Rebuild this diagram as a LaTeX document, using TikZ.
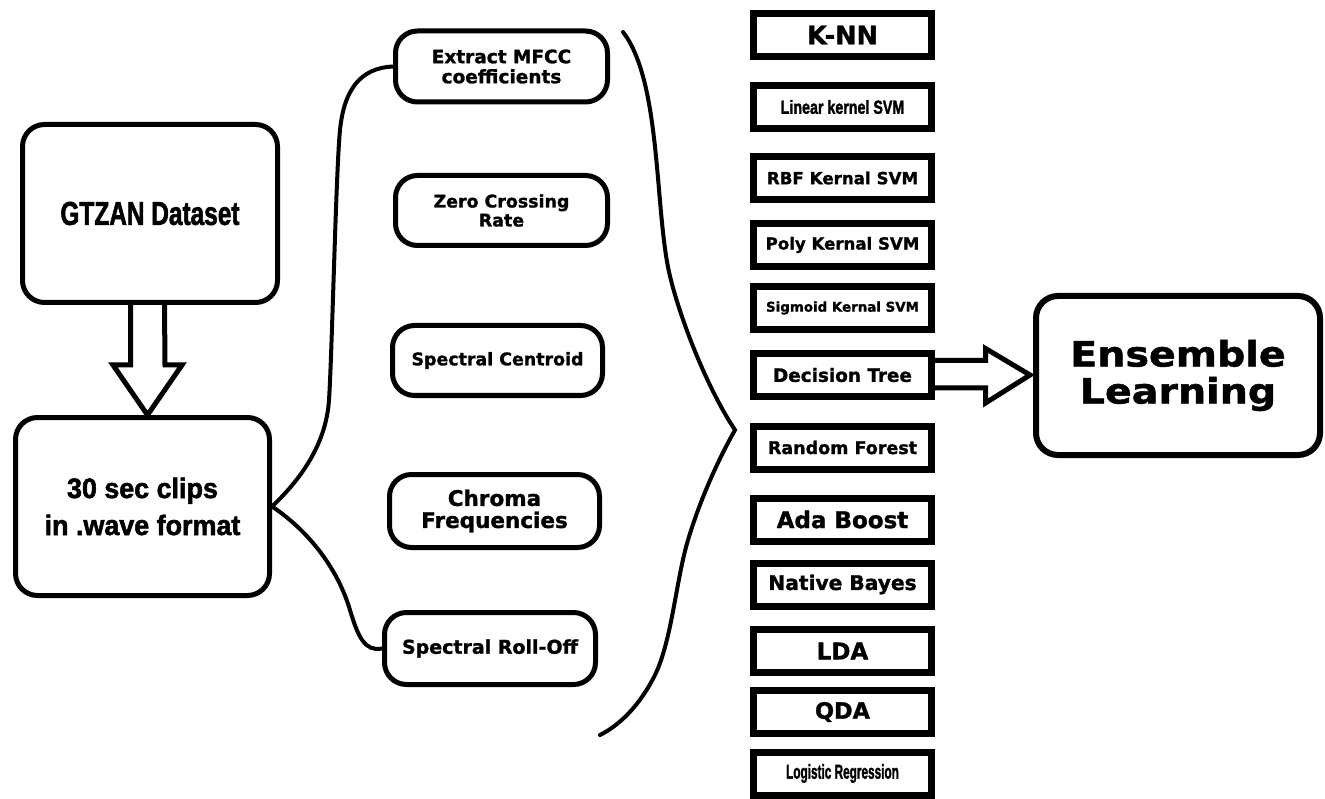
\documentclass[tikz,border=0pt]{standalone}
\usepackage{fontspec}
\usepackage{graphicx}
\setmainfont{Liberation Sans}
\newfontfamily\wfont{DejaVu Sans Bold}[RawFeature={embolden=1.3}]
\newfontfamily\nfont{Liberation Sans Bold}[RawFeature={embolden=2.0}]
\usetikzlibrary{calc}
\begin{document}
\begin{tikzpicture}[x=1pt,y=-1pt,
  bigbox/.style={draw, line width=5pt, rounded corners=22pt, align=center, inner sep=0pt},
  featbox/.style={draw, line width=5pt, rounded corners=22pt, align=center, inner sep=0pt, minimum width=212pt, minimum height=71pt},
  clsbox/.style={draw, line width=7pt, inner sep=0pt, minimum width=178pt, minimum height=43pt},
  wtxt/.style={font=\wfont\fontsize{#1}{#1}\selectfont},
  ntxt/.style={font=\nfont\fontsize{#1}{#1}\selectfont},
  link/.style={line width=4pt, line cap=round},
  fatarrow/.style={line width=5pt, line join=miter}]
\fill[white] (0,0) rectangle (1325,799);
\useasboundingbox (0,0) rectangle (1325,799);

% left column
\node[bigbox, minimum width=255pt, minimum height=178pt, ntxt=33] (gtzan) at (150,213.5) {\scalebox{0.74}[1]{GTZAN Dataset}};
\node[bigbox, minimum width=254pt, minimum height=178pt, font=\nfont\fontsize{28}{37}\selectfont] (clips) at (142.5,506.5) {\scalebox{0.96}[1]{30 sec clips}\\\scalebox{0.96}[1]{in .wave format}};

% feature boxes
\node[featbox, font=\wfont\fontsize{18.5}{20}\selectfont] (mfcc) at (501.5,66.5) {Extract MFCC\\coefficients};
\node[featbox, font=\wfont\fontsize{17.4}{19}\selectfont, minimum height=70pt] (zcr) at (501.5,210.5) {Zero Crossing\\Rate};
\node[featbox, wtxt=17.4, minimum width=210pt, minimum height=70pt] (cent) at (497.5,360.5) {Spectral Centroid};
\node[featbox, font=\wfont\fontsize{21.5}{22}\selectfont, minimum width=210pt, minimum height=73pt] (chroma) at (494.5,511) {Chroma\\Frequencies};
\node[featbox, wtxt=19, minimum width=211pt, minimum height=72pt] (roll) at (490,648.5) {Spectral Roll-Off};

% classifier boxes
\node[clsbox, wtxt=25.5] (knn) at (842.5,35) {K-NN};
\node[clsbox, ntxt=19] (lin) at (842.5,107) {\scalebox{0.75}[1]{Linear kernel SVM}};
\node[clsbox, wtxt=16.7] (rbf) at (842.5,178) {RBF Kernal SVM};
\node[clsbox, wtxt=16.6] (poly) at (842.5,245) {Poly Kernal SVM};
\node[clsbox, wtxt=13.4] (sig) at (842.5,308) {Sigmoid Kernal SVM};
\node[clsbox, wtxt=18.4] (dt) at (842.5,375) {Decision Tree};
\node[clsbox, wtxt=17.5] (rf) at (842.5,447.5) {Random Forest};
\node[clsbox, wtxt=23] (ada) at (842.5,519.5) {Ada Boost};
\node[clsbox, wtxt=20.2] (nb) at (842.5,584.5) {Native Bayes};
\node[clsbox, wtxt=23] (lda) at (842.5,651) {LDA};
\node[clsbox, wtxt=22.4] (qda) at (842.5,712) {QDA};
\node[clsbox, ntxt=20] (lr) at (842.5,773.5) {\scalebox{0.59}[1]{Logistic Regression}};

% ensemble
\node[bigbox, line width=6pt, minimum width=284pt, minimum height=159pt, font=\wfont\fontsize{35}{37}\selectfont] (ens) at (1178,375.5) {\scalebox{1.13}[1]{Ensemble}\\\scalebox{1.13}[1]{Learning}};

% fat arrow GTZAN -> clips
\coordinate (ax) at ($(gtzan.south)+(-2.5,0)$);
\draw[fatarrow] ($(ax)+(-17,0)$) -- ++(0,60) -- ++(-17.5,0) -- (ax |- clips.north) -- ($(ax)+(34.5,60)$) -- ++(-17,0) -- ($(ax)+(17,0)$);

% fat arrow Decision Tree -> Ensemble
\draw[fatarrow] ($(dt.east)+(0,-14.5)$) -- ++(50.5,0) -- ++(0,-12) -- ($(ens.west)+(-3,-0.5)$) -- ($(dt.east)+(50.5,28)$) -- ++(0,-15) -- ($(dt.east)+(0,13)$);

% branches from clips to features
\draw[link] (clips.east) .. controls (300,480) and (326,445) .. (329,400)
  .. controls (332,355) and (336,170) .. (340,130)
  .. controls (344,90) and (360,68) .. (mfcc.west);
\draw[link] (clips.east) .. controls (300,525) and (335,560) .. (350,610)
  .. controls (358,637) and (365,652) .. (roll.west);

% brace
\draw[link] (623,32) .. controls (660,80) and (655,200) .. (668,267)
  .. controls (676,308) and (705,385) .. (735,430)
  .. controls (718,460) and (700,500) .. (688,540)
  .. controls (676,580) and (672,640) .. (655,675)
  .. controls (640,705) and (620,725) .. (600,735);
\end{tikzpicture}
\end{document}
